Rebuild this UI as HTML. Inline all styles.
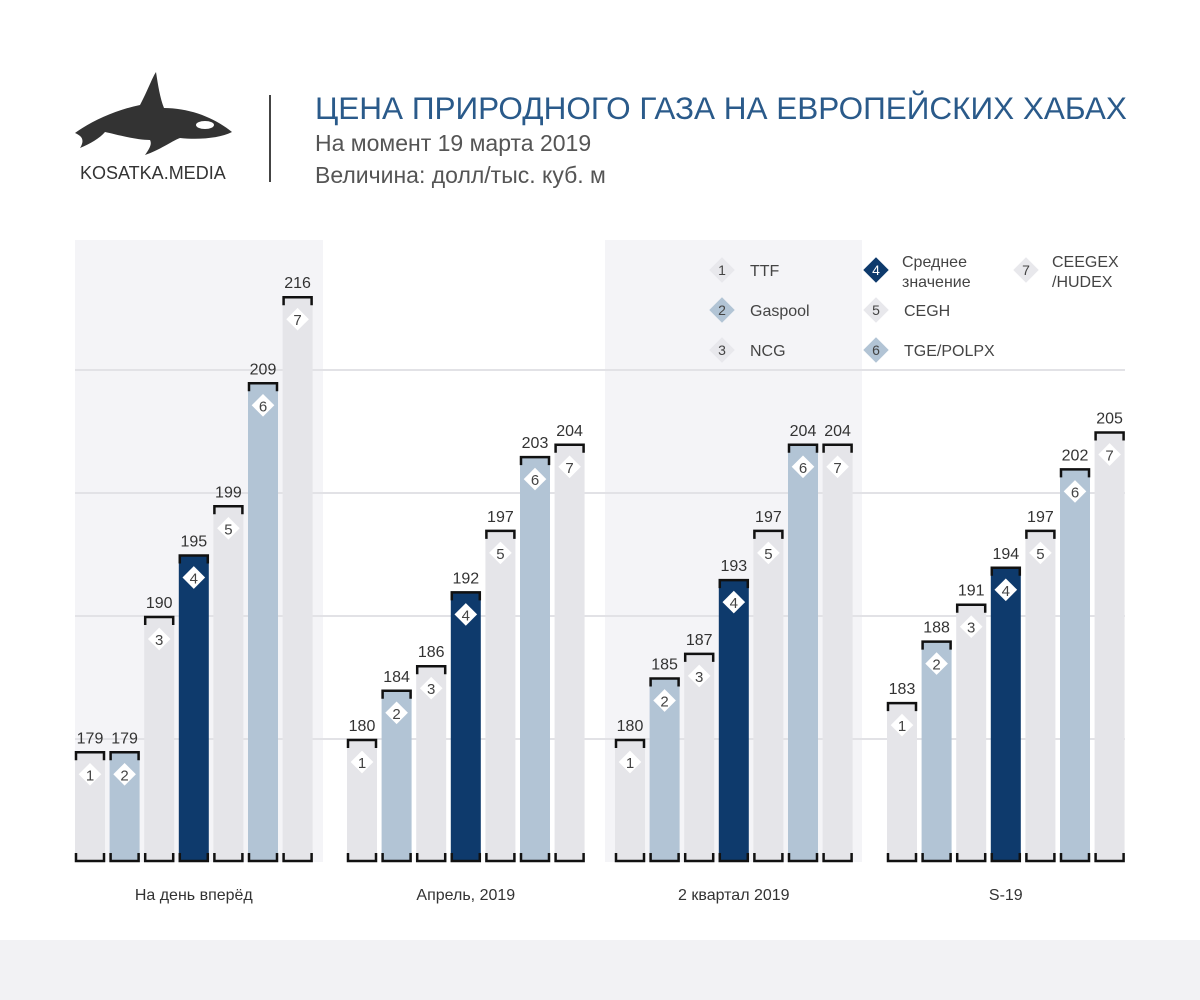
<!DOCTYPE html>
<html><head><meta charset="utf-8"><style>
body{margin:0;background:#fff;font-family:"Liberation Sans","DejaVu Sans",sans-serif}
#wrap{position:relative;width:1200px;height:1000px;overflow:hidden;background:#fff}
.t{position:absolute;left:315px;color:#555;font-size:23px;white-space:nowrap}
</style></head><body>
<div id="wrap">
<svg id="logo" width="240" height="130" style="position:absolute;left:60px;top:60px" viewBox="0 0 240 130">
<path d="M15,73 C30,62 55,50 80,45 C88,30 92,18 96,12 C98,25 100,38 104,48 C130,48 155,58 172,72 C160,78 140,80 120,78 C110,82 100,90 85,95 C90,88 92,84 90,80 C75,80 55,74 45,72 C40,78 30,84 20,88 C25,80 22,76 15,73Z" fill="#333"/>
<ellipse cx="145" cy="65" rx="9" ry="4" fill="#fff"/>
</svg>
<div style="position:absolute;left:80px;top:163px;font-size:18px;color:#333">KOSATKA.MEDIA</div>
<div style="position:absolute;left:269px;top:95px;width:2px;height:87px;background:#444"></div>
<div class="t" style="top:90px;font-size:31.5px;color:#2a5a8a">ЦЕНА ПРИРОДНОГО ГАЗА НА ЕВРОПЕЙСКИХ ХАБАХ</div>
<div class="t" style="top:130px">На момент 19 марта 2019</div>
<div class="t" style="top:162px">Величина: долл/тыс. куб. м</div>
<svg id="ch" width="1200" height="1000" style="position:absolute;left:0;top:0"></svg>
</div>
<script>
const groups=["На день вперёд","Апрель, 2019","2 квартал 2019","S-19"];
const series=["TTF","Gaspool","NCG","Среднее значение","CEGH","TGE/POLPX","CEEGEX /HUDEX"];
const values=[[179,179,190,195,199,209,216],[180,184,186,192,197,203,204],[180,185,187,193,197,204,204],[183,188,191,194,197,202,205]];
const gridTicks=[180,190,200,210];
const colors=["#e5e5e9","#b2c4d5","#e5e5e9","#0e3a6c","#e5e5e9","#b2c4d5","#e5e5e9"];
const NS="http://www.w3.org/2000/svg",svg=document.getElementById('ch');
const base=862,vmin=170,k=12.3;
const y=v=>base-(v-vmin)*k;
const gx=[75,347,615,887],pitch=34.6,bw=30;
const x=(g,i)=>gx[g]+i*pitch;
function el(t,a,p){const e=document.createElementNS(NS,t);for(const q in a)e.setAttribute(q,a[q]);(p||svg).appendChild(e);return e;}
let r;
r=el('rect',{x:75,y:240,width:248,height:622,fill:"#f4f4f7"});

r=el('rect',{x:605,y:240,width:257,height:622,fill:"#f4f4f7"});

r=el('rect',{x:0,y:940,width:1200,height:60,fill:"#f2f2f4"});

gridTicks.forEach(t=>{const l=el('line',{x1:75,x2:1125,y1:y(t),y2:y(t),stroke:"#e2e2e6","stroke-width":2});
});
values.forEach((vs,g)=>{
 vs.forEach((v,i)=>{
  const X=x(g,i),Y=y(v),cx=X+bw/2;
  const b=el('rect',{x:X,y:Y,width:bw,height:base-Y,fill:colors[i]});
  
  el('path',{d:`M${X+1},${Y+9}V${Y+1}H${X+bw-1}V${Y+9}`,fill:"none",stroke:"#111","stroke-width":2.5});
  el('path',{d:`M${X+1},${base-9}V${base-1}H${X+bw-1}V${base-9}`,fill:"none",stroke:"#111","stroke-width":2.5});
  const d=el('rect',{x:cx-8,y:Y+23-8,width:16,height:16,fill:"#fff",transform:`rotate(45 ${cx} ${Y+23})`});
  
  const n=el('text',{x:cx,y:Y+29,"text-anchor":"middle","font-size":15,fill:"#444"});n.textContent=i+1;
  const vl=el('text',{x:cx,y:Y-8,"text-anchor":"middle","font-size":16,fill:"#333"});vl.textContent=v;
  
 });
 const gl=el('text',{x:gx[g]+3*pitch+bw/2,y:900,"text-anchor":"middle","font-size":16,fill:"#333"});gl.textContent=groups[g];
 
});
const lx=[722,876,1026],ly=[270,310,350];
const pos=[[0,0],[0,1],[0,2],[1,0],[1,1],[1,2],[2,0]];
series.forEach((s,i)=>{
 const [c,rw]=pos[i],cx=lx[c],cy=ly[rw];
 const g=el('g',{});
 
 el('rect',{x:cx-9,y:cy-9,width:18,height:18,fill:colors[i]==="#e5e5e9"?"#e8e8ec":colors[i],transform:`rotate(45 ${cx} ${cy})`},g);
 const n=el('text',{x:cx,y:cy+5,"text-anchor":"middle","font-size":14,fill:i===3?"#fff":"#444"},g);n.textContent=i+1;
 const parts=s.split(' ');
 if(i===3||i===6){
  const a=el('text',{x:cx+26,y:cy-3,"font-size":16,fill:"#444"},g);a.textContent=parts[0];
  const b=el('text',{x:cx+26,y:cy+17,"font-size":16,fill:"#444"},g);b.textContent=parts[1];
 } else {const a=el('text',{x:cx+28,y:cy+6,"font-size":16,fill:"#444"},g);a.textContent=s;}
});
</script>
</body></html>
